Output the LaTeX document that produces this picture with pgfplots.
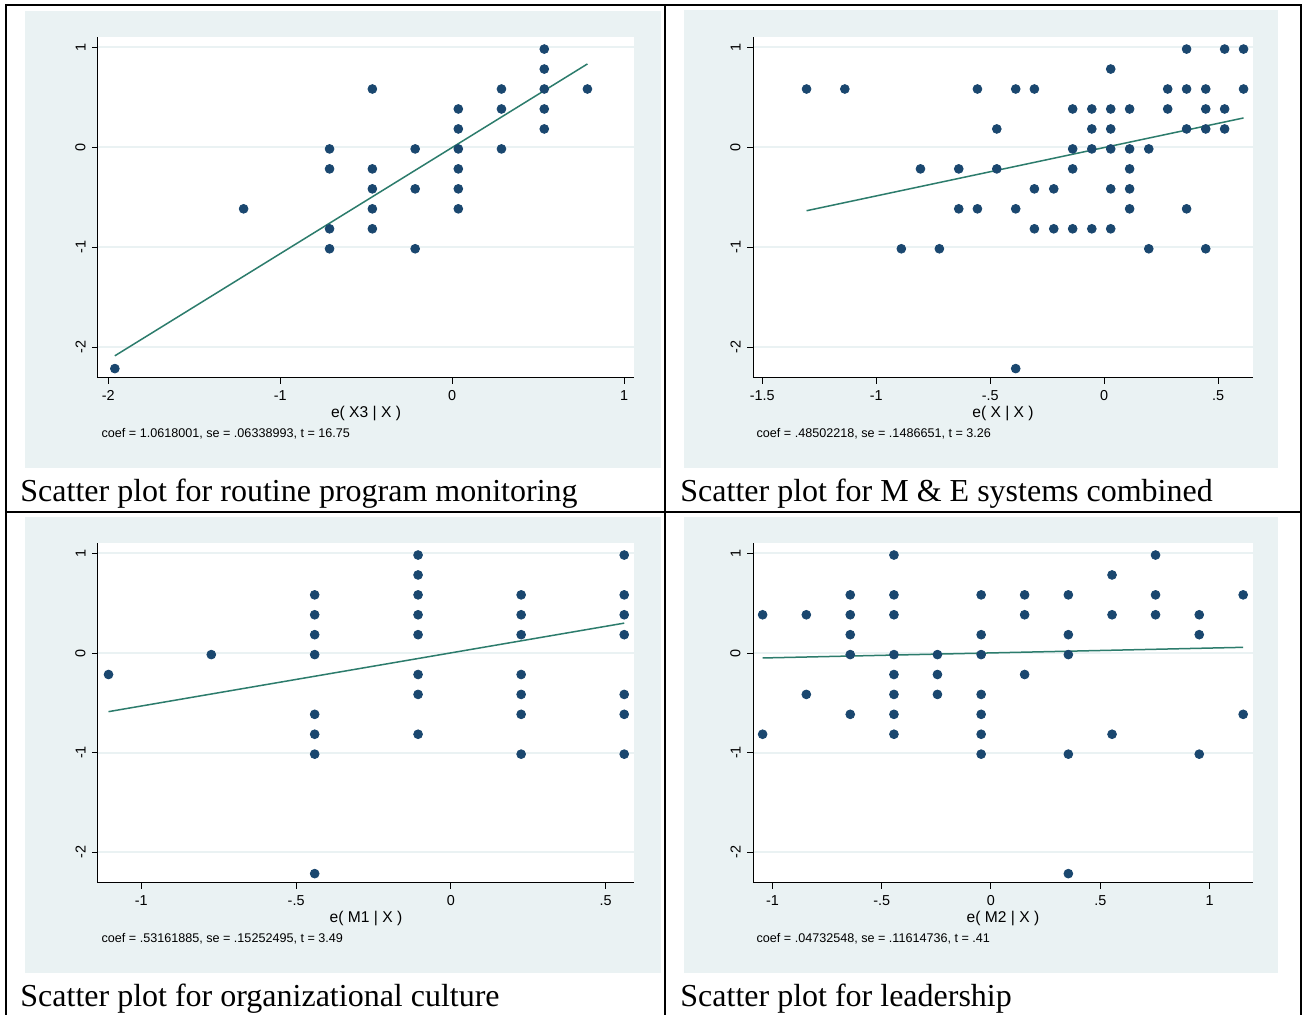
\documentclass[border=0pt]{standalone}
\usepackage{fontspec}
\setmainfont{Liberation Serif}
\newfontfamily\arial{Liberation Sans}
\usepackage{pgfplots}
\pgfplotsset{compat=1.18}
\definecolor{ltbluishgray}{RGB}{234,242,243}
\definecolor{stnavy}{RGB}{26,71,111}
\definecolor{fitcol}{RGB}{44,124,108}
\pgfplotsset{
  avp/.style={
    scale only axis,
    anchor=south west,
    axis x line*=bottom, axis y line*=left,
    axis line style={black, line width=0.5pt},
    tick align=outside,
    major tick length=3pt,
    tick style={black, line width=0.5pt},
    ymin=-2.31, ymax=1.105,
    ytick={-2,-1,0,1}, yticklabels={-2,-1,0,1},
    ymajorgrids, grid style={ltbluishgray, line width=1pt},
    axis background/.style={fill=white},
    /pgf/number format/assume math mode=true,
    tick label style={font=\arial\fontsize{7.2}{8}\selectfont, inner sep=0pt},
    xticklabel style={anchor=north},
    yticklabel style={rotate=90, anchor=south},
    xticklabel shift=3pt, yticklabel shift=3pt,
    label style={font=\arial\fontsize{7.8}{9}\selectfont},
    xlabel style={at={(axis description cs:0.5,0)}, anchor=base, yshift=-20pt, inner sep=0pt},
  },
  pts/.style={only marks, mark=*, mark size=2.2pt, color=stnavy, mark options={draw=stnavy, fill=stnavy}},
  fit/.style={no marks, color=fitcol, line width=0.75pt},
}
\newcommand{\coefnote}[1]{\node[anchor=base west, inner sep=0pt, font=\arial\fontsize{6.3}{7}\selectfont] at (axis description cs:0,0) [xshift=1.6pt, yshift=-29.8pt] {#1};}
\begin{document}
\begin{tikzpicture}[x=0.5pt,y=0.5pt]
\useasboundingbox (0,0) rectangle (1307,1015);
% grey graph regions
\fill[ltbluishgray] (25,547) rectangle (661,1004);
\fill[ltbluishgray] (684,547) rectangle (1278,1005);
\fill[ltbluishgray] (25,42) rectangle (661,498);
\fill[ltbluishgray] (684,42) rectangle (1278,498);

% Panel 1
\begin{axis}[avp, at={(49pt,318.5pt)}, width=268pt, height=170.5pt,
  xmin=-2.060, xmax=1.058,
  xtick={-2,-1,0,1}, xticklabels={-2,-1,0,1},
  xlabel={e( X3 | X )},
  extra description/.code={\coefnote{coef = 1.0618001, se = .06338993, t = 16.75}}]
\addplot[pts] coordinates {
(-1.962,-2.216)
(-1.213,-0.616)
(-0.713,-0.016) (-0.713,-0.216) (-0.713,-0.816) (-0.713,-1.016)
(-0.464,0.584) (-0.464,-0.216) (-0.464,-0.416) (-0.464,-0.616) (-0.464,-0.816)
(-0.215,-0.016) (-0.215,-0.416) (-0.215,-1.016)
(0.036,0.384) (0.036,0.184) (0.036,-0.016) (0.036,-0.216) (0.036,-0.416) (0.036,-0.616)
(0.287,0.584) (0.287,0.384) (0.287,-0.016)
(0.536,0.984) (0.536,0.784) (0.536,0.584) (0.536,0.384) (0.536,0.184)
(0.787,0.584)
};
\addplot[fit] coordinates {(-1.962,-2.088) (0.787,0.835)};
\end{axis}

% Panel 2
\begin{axis}[avp, at={(376.5pt,318.5pt)}, width=250pt, height=170.5pt,
  xmin=-1.541, xmax=0.6535,
  xtick={-1.5,-1,-0.5,0,0.5}, xticklabels={-1.5,-1,-.5,0,.5},
  xlabel={e( X | X )},
  extra description/.code={\coefnote{coef = .48502218, se = .1486651, t = 3.26}}]
\addplot[pts] coordinates {
(-1.306,0.584) (-1.138,0.584)
(-0.890,-1.016) (-0.806,-0.216) (-0.723,-1.016)
(-0.638,-0.216) (-0.638,-0.616)
(-0.556,0.584) (-0.556,-0.616)
(-0.471,0.184) (-0.471,-0.216)
(-0.388,0.584) (-0.388,-0.616) (-0.388,-2.216)
(-0.306,0.584) (-0.306,-0.416) (-0.306,-0.816)
(-0.221,-0.416) (-0.221,-0.816)
(-0.138,0.384) (-0.138,-0.016) (-0.138,-0.216) (-0.138,-0.816)
(-0.054,0.384) (-0.054,0.184) (-0.054,-0.016) (-0.054,-0.816)
(0.029,0.784) (0.029,0.384) (0.029,0.184) (0.029,-0.016) (0.029,-0.416) (0.029,-0.816)
(0.112,0.384) (0.112,-0.016) (0.112,-0.216) (0.112,-0.416) (0.112,-0.616)
(0.196,-0.016) (0.196,-1.016)
(0.279,0.584) (0.279,0.384)
(0.362,0.984) (0.362,0.584) (0.362,0.184) (0.362,-0.616)
(0.446,0.584) (0.446,0.384) (0.446,0.184) (0.446,-1.016)
(0.529,0.984) (0.529,0.384) (0.529,0.184)
(0.612,0.984) (0.612,0.584)
};
\addplot[fit] coordinates {(-1.306,-0.635) (0.612,0.294)};
\end{axis}

% Panel 3
\begin{axis}[avp, at={(49pt,66pt)}, width=268pt, height=170pt,
  xmin=-1.140, xmax=0.5916,
  xtick={-1,-0.5,0,0.5}, xticklabels={-1,-.5,0,.5},
  xlabel={e( M1 | X )},
  extra description/.code={\coefnote{coef = .53161885, se = .15252495, t = 3.49}}]
\addplot[pts] coordinates {
(-1.106,-0.216)
(-0.774,-0.016)
(-0.440,0.584) (-0.440,0.384) (-0.440,0.184) (-0.440,-0.016) (-0.440,-0.616) (-0.440,-0.816) (-0.440,-1.016) (-0.440,-2.216)
(-0.106,0.984) (-0.106,0.784) (-0.106,0.584) (-0.106,0.384) (-0.106,0.184) (-0.106,-0.216) (-0.106,-0.416) (-0.106,-0.816)
(0.227,0.584) (0.227,0.384) (0.227,0.184) (0.227,-0.216) (0.227,-0.416) (0.227,-0.616) (0.227,-1.016)
(0.560,0.984) (0.560,0.584) (0.560,0.384) (0.560,0.184) (0.560,-0.416) (0.560,-0.616) (0.560,-1.016)
};
\addplot[fit] coordinates {(-1.106,-0.589) (0.560,0.300)};
\end{axis}

% Panel 4
\begin{axis}[avp, at={(376.5pt,66pt)}, width=250pt, height=170pt,
  xmin=-1.089, xmax=1.199,
  xtick={-1,-0.5,0,0.5,1}, xticklabels={-1,-.5,0,.5,1},
  xlabel={e( M2 | X )},
  extra description/.code={\coefnote{coef = .04732548, se = .11614736, t = .41}}]
\addplot[pts] coordinates {
(-1.045,0.384) (-1.045,-0.816)
(-0.845,0.384) (-0.845,-0.416)
(-0.644,0.584) (-0.644,0.384) (-0.644,0.184) (-0.644,-0.016) (-0.644,-0.616)
(-0.444,0.984) (-0.444,0.584) (-0.444,0.384) (-0.444,-0.016) (-0.444,-0.216) (-0.444,-0.416) (-0.444,-0.616) (-0.444,-0.816)
(-0.245,-0.016) (-0.245,-0.216) (-0.245,-0.416)
(-0.045,0.584) (-0.045,0.184) (-0.045,-0.016) (-0.045,-0.416) (-0.045,-0.616) (-0.045,-0.816) (-0.045,-1.016)
(0.154,0.584) (0.154,0.384) (0.154,-0.216)
(0.354,0.584) (0.354,0.184) (0.354,-0.016) (0.354,-1.016) (0.354,-2.216)
(0.554,0.784) (0.554,0.384) (0.554,-0.816)
(0.753,0.984) (0.753,0.584) (0.753,0.384)
(0.953,0.384) (0.953,0.184) (0.953,-1.016)
(1.154,0.584) (1.154,-0.616)
};
\addplot[fit] coordinates {(-1.045,-0.050) (1.154,0.057)};
\end{axis}

% captions
\node[anchor=base west, inner sep=0pt, font=\fontsize{16}{18}\selectfont] at (20,513) {Scatter plot for routine program monitoring};
\node[anchor=base west, inner sep=0pt, font=\fontsize{16}{18}\selectfont] at (680,513) {Scatter plot for M \& E systems combined};
\node[anchor=base west, inner sep=0pt, font=\fontsize{16}{18}\selectfont] at (20,8) {Scatter plot for organizational culture};
\node[anchor=base west, inner sep=0pt, font=\fontsize{16}{18}\selectfont] at (680,8) {Scatter plot for leadership};

% table rules
\draw[line width=1pt] (6,0) -- (6,1010) -- (1301,1010) -- (1301,0);
\draw[line width=1pt] (665,0) -- (665,1010);
\draw[line width=1pt] (6,503) -- (1301,503);
\end{tikzpicture}
\end{document}
